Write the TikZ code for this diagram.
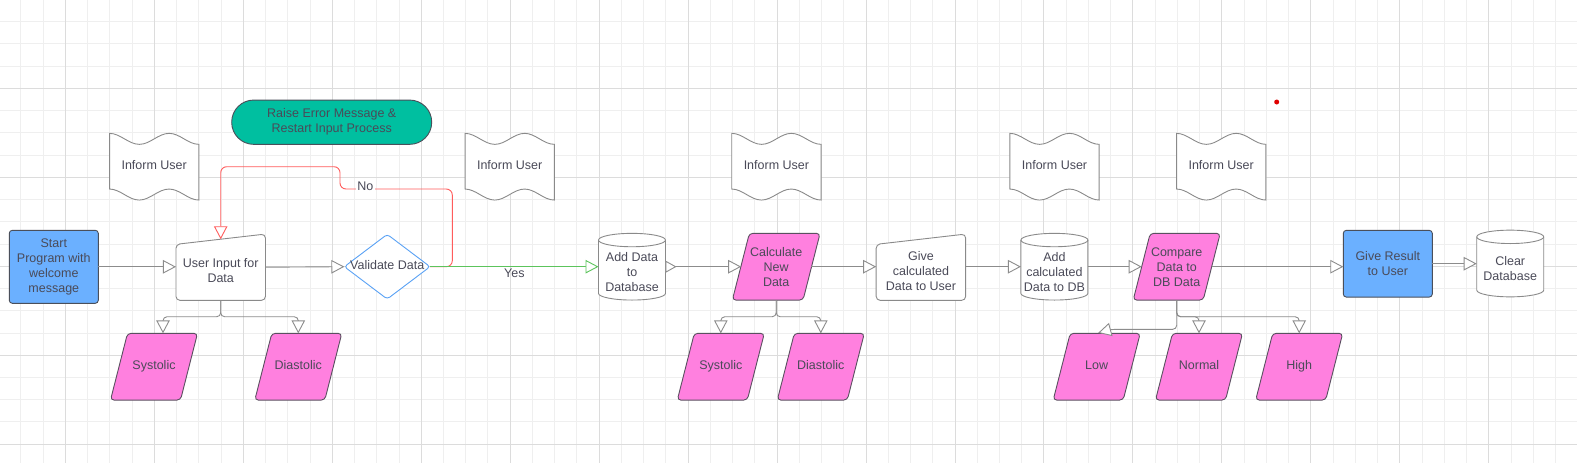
\documentclass[tikz,border=0pt]{standalone}
\usepackage{fontspec}
\setmainfont{Liberation Sans}
\usetikzlibrary{arrows.meta,calc}
\pgfdeclarelayer{grid}
\pgfdeclarelayer{shapes}
\pgfsetlayers{grid,shapes,main}
\definecolor{gridminor}{HTML}{EFEFEF}
\definecolor{gridmajor}{HTML}{DCDCDC}
\definecolor{txtc}{HTML}{4A4A58}
\definecolor{linec}{HTML}{8C8C8C}
\definecolor{bordc}{HTML}{8A8A8A}
\definecolor{darkb}{HTML}{4A4F5A}
\definecolor{parab}{HTML}{5A5060}
\definecolor{pinkf}{HTML}{FF80DF}
\definecolor{bluef}{HTML}{6BB0FF}
\definecolor{tealf}{HTML}{00BFA0}
\definecolor{diab}{HTML}{5AA2F5}
\definecolor{redl}{HTML}{FF5C5C}
\definecolor{greenl}{HTML}{5CC45C}
\definecolor{dotred}{HTML}{E00000}

\newcommand{\DrawTape}[1]{%
  \begin{pgfonlayer}{shapes}
  \filldraw[draw=bordc,fill=white,line width=0.9pt] (#1.north west)
    .. controls +(10.8,0) and +(-10.8,0) .. ++(29.8,11)
    .. controls +(10.8,0) and +(-10.8,0) .. ++(29.8,-11)
    .. controls +(10.8,0) and +(-10.8,0) .. ++(29.7,11)
    -- (#1.south east)
    .. controls +(-10.8,0) and +(10.8,0) .. ++(-29.8,-11)
    .. controls +(-10.8,0) and +(10.8,0) .. ++(-29.8,11)
    .. controls +(-10.8,0) and +(10.8,0) .. ++(-29.7,-11)
    -- cycle;
  \end{pgfonlayer}}
\newcommand{\DrawManual}[1]{%
  \begin{pgfonlayer}{shapes}
  \filldraw[draw=bordc,fill=white,line width=0.9pt,rounded corners=4]
    ($(#1.north west)+(0,10.3)$) -- (#1.north east) -- (#1.south east) -- (#1.south west) -- cycle;
  \end{pgfonlayer}}
\newcommand{\DrawPara}[1]{%
  \begin{pgfonlayer}{shapes}
  \filldraw[draw=parab,fill=pinkf,line width=0.9pt,rounded corners=3.5]
    ($(#1.north west)+(17,0)$) -- (#1.north east) -- ($(#1.south east)+(-17,0)$) -- (#1.south west) -- cycle;
  \end{pgfonlayer}}
\newcommand{\DrawDiam}[1]{%
  \begin{pgfonlayer}{shapes}
  \filldraw[draw=diab,fill=white,line width=0.9pt,rounded corners=3]
    (#1.west) -- (#1.north) -- (#1.east) -- (#1.south) -- cycle;
  \end{pgfonlayer}}
\newcommand{\DrawCyl}[1]{%
  \begin{pgfonlayer}{shapes}
  \filldraw[draw=bordc,fill=white,line width=0.9pt]
    ($(#1.north west)+(0,6.7)$) -- ($(#1.south west)+(0,-6.7)$)
    .. controls +(0,3.7) and +(-18.5,0) .. (#1.south)
    .. controls +(18.5,0) and +(0,3.7) .. ($(#1.south east)+(0,-6.7)$)
    -- ($(#1.north east)+(0,6.7)$)
    .. controls +(0,-3.7) and +(18.5,0) .. (#1.north)
    .. controls +(-18.5,0) and +(0,-3.7) .. cycle;
  \draw[draw=bordc,line width=0.9pt]
    ($(#1.north west)+(0,6.7)$) .. controls +(0,3.7) and +(-18.5,0) .. ($(#1.north)+(0,13.4)$)
    .. controls +(18.5,0) and +(0,3.7) .. ($(#1.north east)+(0,6.7)$);
  \end{pgfonlayer}}

\begin{document}
\begin{tikzpicture}[x=1pt,y=-1pt,
  txt/.style={inner sep=0pt, outer sep=0pt, align=center, text=txtc, font=\fontsize{12.5}{15}\selectfont},
  one/.style={txt, text height=9.2pt, text depth=2.7pt},
  tapebox/.style={one, rectangle, minimum width=89.3, minimum height=66.7},
  cylbox/.style={txt, rectangle, minimum width=67, minimum height=66.7},
  parabox/.style={txt, rectangle, minimum width=87, minimum height=66.7},
  manbox/.style={txt, rectangle, minimum width=89.5, minimum height=66.3},
  diabox/.style={one, rectangle, minimum width=85.7, minimum height=64.7},
  procbox/.style={txt, rectangle, draw=darkb, fill=bluef, line width=0.9pt, rounded corners=3, minimum width=89},
  termbox/.style={txt, rectangle, draw=darkb, fill=tealf, line width=0.9pt, rounded corners=22, minimum width=200, minimum height=44.3},
  conn/.style={draw=linec, line width=0.9pt, rounded corners=4, -{Triangle[length=13pt,width=13.5pt,fill=white]}},
  gminor/.style={draw=gridminor, line width=0.8pt},
  gmajor/.style={draw=gridmajor, line width=0.8pt}
]
\useasboundingbox (0,0) rectangle (1577,463);
\begin{pgfonlayer}{grid}
  \fill[white] (0,0) rectangle (1577,463);
  \foreach \i in {1,...,71} { \draw[gminor] ({-1.4+22.24*\i},0) -- ({-1.4+22.24*\i},463); }
  \foreach \i in {1,...,21} { \draw[gminor] (0,{-0.7+22.24*\i}) -- (1577,{-0.7+22.24*\i}); }
  \foreach \i in {0,...,16} { \draw[gmajor] ({65.3+88.96*\i},0) -- ({65.3+88.96*\i},463); }
  \foreach \i in {1,...,5} { \draw[gmajor] (0,{-0.7+88.96*\i}) -- (1577,{-0.7+88.96*\i}); }
\end{pgfonlayer}

% nodes
\node[procbox, minimum height=73] (start) at (53.8,266.8) {Start\\Program with\\welcome\\message};
\node[termbox] (raise) at (331.7,122.2) {Raise Error Message \&\\Restart Input Process};
\node[tapebox] (inf1) at (154.2,166.7) {Inform User};
\node[manbox] (ui) at (220.7,267.2) {};
\node[txt] (uit) at (220.7,270.8) {User Input for\\Data};
\node[diabox] (val) at (387.2,266.7) {Validate Data};
\node[parabox, one] (sys1) at (154,366.7) {Systolic};
\node[parabox, one] (dia1) at (298.3,366.7) {Diastolic};
\node[tapebox] (inf2) at (509.7,166.7) {Inform User};
\node[cylbox] (db1) at (632,266.7) {};
\node[txt] (db1t) at (632,271.7) {Add Data\\to\\Database};
\node[parabox, minimum width=87.7] (calc) at (776.2,266.7) {Calculate\\New\\Data};
\node[tapebox] (inf3) at (776.4,166.7) {Inform User};
\node[parabox, one] (sys2) at (720.8,366.7) {Systolic};
\node[parabox, one] (dia2) at (820.8,366.7) {Diastolic};
\node[manbox] (gcu) at (920.9,267.2) {};
\node[txt] (gcut) at (921,270.7) {Give\\calculated\\Data to User};
\node[cylbox] (db2) at (1054.4,266.7) {};
\node[txt] (db2t) at (1054.4,271.7) {Add\\calculated\\Data to DB};
\node[tapebox] (inf4) at (1054.5,166.7) {Inform User};
\node[parabox] (cmp) at (1176.7,266.7) {Compare\\Data to\\DB Data};
\node[tapebox] (inf5) at (1221.2,166.7) {Inform User};
\node[parabox, one] (low) at (1096.7,366.7) {Low};
\node[parabox, one] (normal) at (1199,366.7) {Normal};
\node[parabox, one] (high) at (1299.2,366.7) {High};
\node[procbox, minimum height=66.7] (res) at (1387.8,263.7) {Give Result\\to User};
\node[cylbox] (db3) at (1510.2,263.5) {};
\node[txt] (db3t) at (1510.2,268.8) {Clear\\Database};

% shapes
\DrawTape{inf1}\DrawTape{inf2}\DrawTape{inf3}\DrawTape{inf4}\DrawTape{inf5}
\DrawManual{ui}\DrawManual{gcu}
\DrawDiam{val}
\DrawPara{sys1}\DrawPara{dia1}\DrawPara{calc}\DrawPara{sys2}\DrawPara{dia2}
\DrawPara{cmp}\DrawPara{low}\DrawPara{normal}\DrawPara{high}
\DrawCyl{db1}\DrawCyl{db2}\DrawCyl{db3}

\fill[dotred] (1276.7,102) circle[radius=2.5pt];

% connectors
\draw[conn] (start.east) -- (start.east -| ui.west);
\draw[conn] (ui.east) -- (val.west);
\draw[conn] (ui.south) -- ++(0,16.4) -| ($(sys1.north)+(9,0)$);
\draw[conn] (ui.south) -- ++(0,16.4) -| (dia1.north);
\coordinate (uitop) at ($(ui.north)+(0,5.2)$);
\coordinate (r1) at (452.3,189);
\coordinate (r2) at (340,166.7);
\draw[conn, draw=redl, rounded corners=6] (val.east) -| (r1) -| (r2) -| (uitop);
\node[one, fill=white, inner sep=1.5pt] (nolab) at (365.3,187.7) {No};
\draw[conn, draw=greenl] (val.east) -- (db1.west);
\node[one] (yeslab) at (514.3,274.3) {Yes};
\coordinate (calcL) at ($(calc.west)+(8.8,0)$);
\coordinate (calcR) at ($(calc.east)+(-8.8,0)$);
\draw[conn, {Triangle[reversed,length=11pt,width=12pt,fill=white]}-{Triangle[length=13pt,width=13.5pt,fill=white]}] (db1.east) -- (calcL);
\draw[conn] (calc.south) -- ++(0,16.7) -| (sys2.north);
\draw[conn] (calc.south) -- ++(0,16.7) -| (dia2.north);
\draw[conn] (calcR) -- (calcR -| gcu.west);
\draw[conn] (gcu.east |- calcR) -- (calcR -| db2.west);
\coordinate (cmpL) at ($(cmp.west)+(8.5,0)$);
\coordinate (cmpR) at ($(cmp.east)+(-8.5,0)$);
\draw[conn] (db2.east) -- (cmpL);
\draw[conn] (cmpR) -- (cmpR -| res.west);
\draw[conn] (res.east) -- (res.east -| db3.west);
\draw[conn] (cmp.south) -- ++(0,16.7) -| (high.north);
\draw[conn] (cmp.south) -- ++(0,16.7) -| (normal.north);
\coordinate (lowc) at ($(low.north)+(14.5,-4)$);
\coordinate (lowt) at ($(low.north)+(1.5,-0.5)$);
\draw[conn] (cmp.south) |- (lowc) -- (lowt);
\end{tikzpicture}
\end{document}
